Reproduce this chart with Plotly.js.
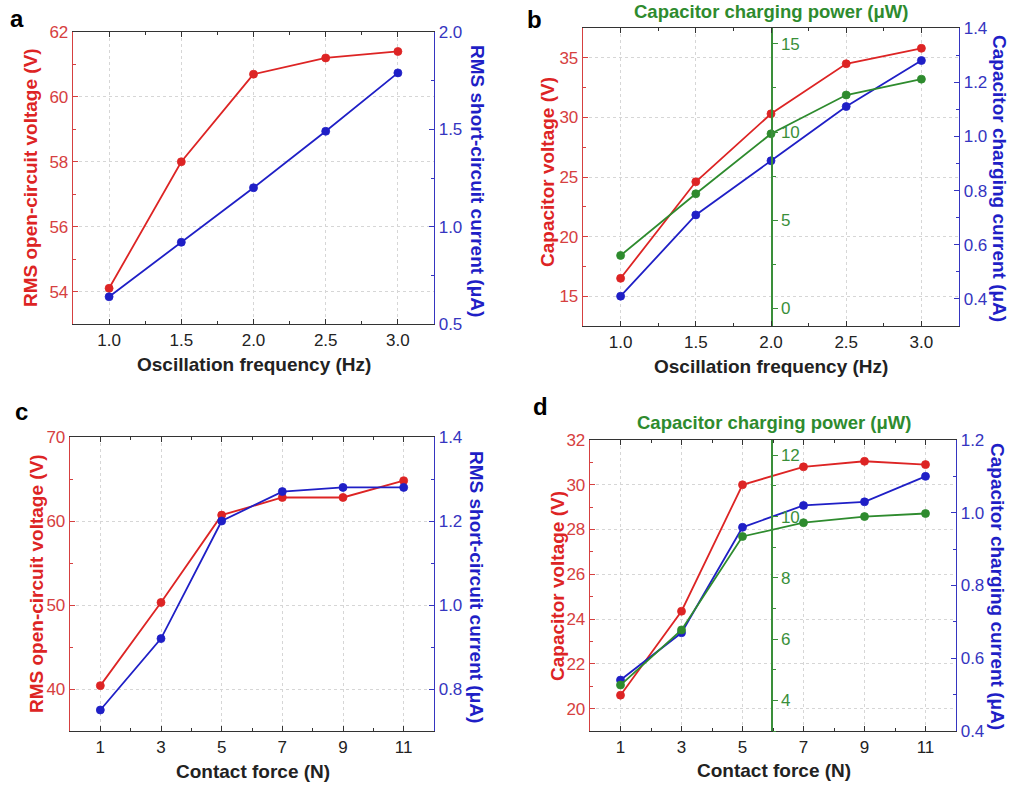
<!DOCTYPE html>
<html>
<head>
<meta charset="utf-8">
<script src="https://cdn.plot.ly/plotly-3.0.1.min.js"></script>
<style>html,body{margin:0;padding:0;background:#fff;}#chart{width:1011px;height:786px;}</style>
</head>
<body>
<div id="chart"></div>
<script>
// ---- data ----
const freq = [1.0, 1.5, 2.0, 2.5, 3.0];
const aVoltage = [54.1, 58.0, 60.7, 61.2, 61.4];
const aCurrent = [0.64, 0.92, 1.20, 1.49, 1.79];
const bVoltage = [16.5, 24.6, 30.3, 34.5, 35.8];
const bCurrent = [0.41, 0.71, 0.91, 1.11, 1.28];
const bPower = [3.0, 6.5, 9.9, 12.1, 13.0];
const force = [1, 3, 5, 7, 9, 11];
const cVoltage = [40.4, 50.3, 60.7, 62.8, 62.8, 64.8];
const cCurrent = [0.75, 0.92, 1.20, 1.27, 1.28, 1.28];
const dVoltage = [20.6, 24.35, 30.0, 30.8, 31.05, 30.9];
const dCurrent = [0.54, 0.67, 0.96, 1.02, 1.03, 1.10];
const dPower = [4.5, 6.3, 9.35, 9.8, 10.0, 10.1];

const panelLabels = ['a', 'b', 'c', 'd'];
const freqTitle = 'Oscillation frequency (Hz)';
const forceTitle = 'Contact force (N)';
const rmsVTitle = 'RMS open-circuit voltage (V)';
const rmsITitle = 'RMS short-circuit current (\u03bcA)';
const capVTitle = 'Capacitor voltage (V)';
const capITitle = 'Capacitor charging current (\u03bcA)';
const capPTitle = 'Capacitor charging power (\u03bcW)';

// ---- styling ----
const RED = '#dd2424', BLUE = '#1f1fc6', GREEN = '#2e8b2e';
const RED_AX = '#d64040', BLUE_AX = '#3535c0', GREEN_AX = '#3a8f3a';
const FONT = 'Liberation Sans, Arial, sans-serif';
const TICK = 17, TITLE = 19;
const GRID = '#d6d6d6';
const W = 1011, H = 786;

function px(x) { return x / W; }
function py(y) { return 1 - y / H; }

function trace(x, y, color, xa, ya) {
  return {
    x: x, y: y, xaxis: xa, yaxis: ya, type: 'scatter', mode: 'lines+markers',
    line: {color: color, width: 1.8},
    marker: {color: color, size: 8, line: {color: color, width: 0.8}},
    showlegend: false, hoverinfo: 'x+y'
  };
}

function xAxis(domain, anchor, range, dtick, tick0, minorDtick, fmt) {
  return {
    domain: domain, anchor: anchor, range: range, dtick: dtick, tick0: tick0,
    tickformat: fmt, ticks: 'inside', ticklen: 5, tickcolor: '#333', tickwidth: 1,
    showline: true, linecolor: '#333', linewidth: 1.3, mirror: 'ticks',
    showgrid: true, gridcolor: GRID, griddash: 'dot', gridwidth: 1,
    zeroline: false, fixedrange: true,
    tickfont: {family: FONT, size: TICK, color: '#222'},
    minor: {ticks: 'inside', ticklen: 3, dtick: minorDtick, tickcolor: '#333', showgrid: false}
  };
}

function yLeft(domain, anchor, range, dtick, minorDtick, fmt) {
  return {
    domain: domain, anchor: anchor, range: range, dtick: dtick, tick0: 0,
    tickformat: fmt, ticks: 'inside', ticklen: 5, tickcolor: RED_AX,
    showline: true, linecolor: RED_AX, linewidth: 1.3,
    showgrid: true, gridcolor: GRID, griddash: 'dot', gridwidth: 1,
    zeroline: false, fixedrange: true,
    tickfont: {family: FONT, size: TICK, color: RED_AX},
    minor: {ticks: 'inside', ticklen: 3, dtick: minorDtick, tickcolor: RED_AX, showgrid: false}
  };
}

function yRight(overlay, anchor, range, dtick, minorDtick, fmt) {
  return {
    overlaying: overlay, anchor: anchor, side: 'right', range: range, dtick: dtick, tick0: 0,
    tickformat: fmt, ticks: 'inside', ticklen: 5, tickcolor: BLUE_AX,
    showline: true, linecolor: BLUE_AX, linewidth: 1.3,
    showgrid: false, zeroline: false, fixedrange: true,
    tickfont: {family: FONT, size: TICK, color: BLUE_AX},
    minor: {ticks: 'inside', ticklen: 3, dtick: minorDtick, tickcolor: BLUE_AX, showgrid: false}
  };
}

function yGreen(overlay, position, range, dtick, minorDtick) {
  return {
    overlaying: overlay, anchor: 'free', position: position, side: 'right',
    range: range, dtick: dtick, tick0: 0, ticks: 'outside', ticklen: 5, tickcolor: GREEN_AX,
    showline: true, linecolor: GREEN_AX, linewidth: 1.5,
    showgrid: false, zeroline: false, fixedrange: true,
    tickfont: {family: FONT, size: TICK, color: GREEN_AX},
    minor: {ticks: 'outside', ticklen: 3, dtick: minorDtick, tickcolor: GREEN_AX, showgrid: false}
  };
}

function ann(text, x, y, color, size, angle, bold) {
  return {
    text: bold ? '<b>' + text + '</b>' : text, x: px(x), y: py(y), xref: 'paper', yref: 'paper',
    showarrow: false, textangle: angle, xanchor: 'center', yanchor: 'middle',
    font: {family: FONT, size: size, color: color}
  };
}

// domains (pixel edges of each plot frame)
const aX = [px(73), px(434)], aY = [py(324), py(32)];
const bX = [px(583), px(959)], bY = [py(326), py(28)];
const cX = [px(70), px(434)], cY = [py(731), py(437)];
const dX = [px(590), px(956)], dY = [py(731), py(440)];
const greenPos = px(771);

const data = [
  trace(freq, aVoltage, RED, 'x', 'y'),
  trace(freq, aCurrent, BLUE, 'x', 'y2'),
  trace(freq, bVoltage, RED, 'x2', 'y3'),
  trace(freq, bPower, GREEN, 'x2', 'y5'),
  trace(freq, bCurrent, BLUE, 'x2', 'y4'),
  trace(force, cVoltage, RED, 'x3', 'y6'),
  trace(force, cCurrent, BLUE, 'x3', 'y7'),
  trace(force, dVoltage, RED, 'x4', 'y8'),
  trace(force, dPower, GREEN, 'x4', 'y10'),
  trace(force, dCurrent, BLUE, 'x4', 'y9')
];

const layout = {
  width: W, height: H, margin: {l: 0, r: 0, t: 0, b: 0},
  paper_bgcolor: '#fff', plot_bgcolor: 'rgba(0,0,0,0)',
  font: {family: FONT},
  xaxis: xAxis(aX, 'y', [0.75, 3.25], 0.5, 0, 0.25, '.1f'),
  yaxis: yLeft(aY, 'x', [53, 62], 2, 1, ''),
  yaxis2: yRight('y', 'x', [0.5, 2.0], 0.5, 0.25, '.1f'),
  xaxis2: xAxis(bX, 'y3', [0.75, 3.25], 0.5, 0, 0.25, '.1f'),
  yaxis3: yLeft(bY, 'x2', [12.5, 37.5], 5, 2.5, ''),
  yaxis4: yRight('y3', 'x2', [0.3, 1.4], 0.2, 0.1, '.1f'),
  yaxis5: yGreen('y3', greenPos, [-1, 15.9], 5, 2.5),
  xaxis3: xAxis(cX, 'y6', [0, 12], 2, 1, 1, ''),
  yaxis6: yLeft(cY, 'x3', [35, 70], 10, 5, ''),
  yaxis7: yRight('y6', 'x3', [0.7, 1.4], 0.2, 0.1, '.1f'),
  xaxis4: xAxis(dX, 'y8', [0, 12], 2, 1, 1, ''),
  yaxis8: yLeft(dY, 'x4', [19, 32], 2, 1, ''),
  yaxis9: yRight('y8', 'x4', [0.4, 1.2], 0.2, 0.1, '.1f'),
  yaxis10: yGreen('y8', greenPos, [3, 12.5], 2, 1),
  annotations: [
    ann(panelLabels[0], 17, 18, '#000', 24, 0, true),
    ann(panelLabels[1], 534, 19, '#000', 24, 0, true),
    ann(panelLabels[2], 21, 411, '#000', 24, 0, true),
    ann(panelLabels[3], 540, 406, '#000', 24, 0, true),
    // panel a
    ann(rmsVTitle, 31, 178, RED, TITLE, -90, true),
    ann(freqTitle, 254, 364, '#222', TITLE, 0, true),
    ann(rmsITitle, 478, 181, BLUE, TITLE, 90, true),
    // panel b
    ann(capVTitle, 547, 172, RED, TITLE, -90, true),
    ann(freqTitle, 771, 366, '#222', TITLE, 0, true),
    ann(capITitle, 999, 178, BLUE, TITLE, 90, true),
    ann(capPTitle, 771, 11, GREEN, 18.5, 0, true),
    // panel c
    ann(rmsVTitle, 36, 584, RED, TITLE, -90, true),
    ann(forceTitle, 253, 771, '#222', TITLE, 0, true),
    ann(rmsITitle, 477, 587, BLUE, TITLE, 90, true),
    // panel d
    ann(capVTitle, 557, 586, RED, TITLE, -90, true),
    ann(forceTitle, 774, 770, '#222', TITLE, 0, true),
    ann(capITitle, 998, 586, BLUE, TITLE, 90, true),
    ann(capPTitle, 774, 422, GREEN, 18.5, 0, true)
  ]
};

Plotly.newPlot('chart', data, layout, {staticPlot: true, displayModeBar: false});
</script>
</body>
</html>
